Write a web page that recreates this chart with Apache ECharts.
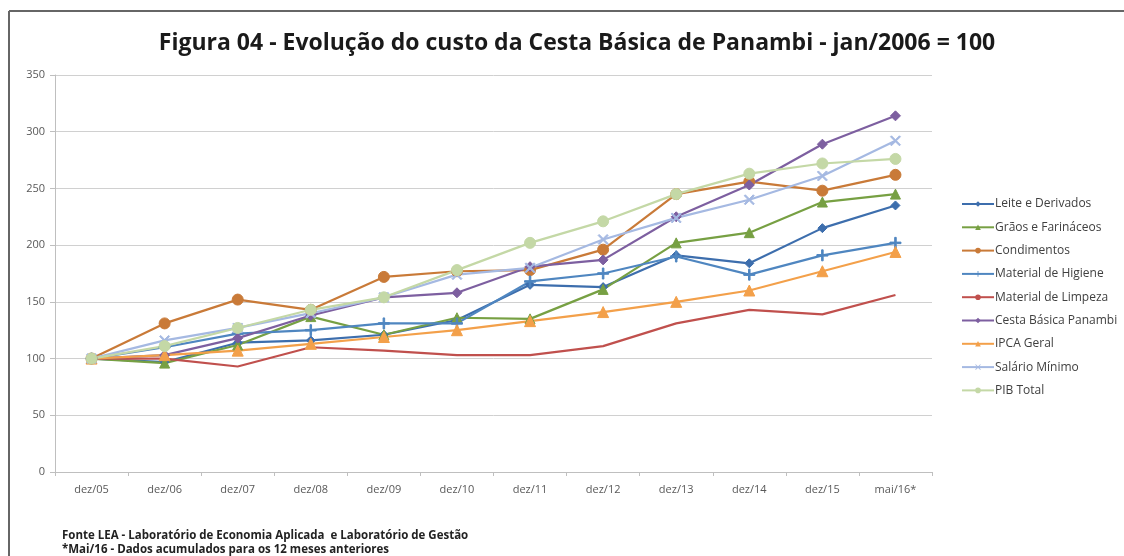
<!DOCTYPE html>
<html>
<head>
<meta charset="utf-8">
<style>
  html, body { margin: 0; padding: 0; background: #fff; }
  #chart { width: 1124px; height: 556px; }
</style>
<script src="https://cdn.jsdelivr.net/npm/echarts@6/dist/echarts.min.js"></script>
</head>
<body>
<div id="chart"></div>
<script>
  var categories = ['dez/05', 'dez/06', 'dez/07', 'dez/08', 'dez/09', 'dez/10', 'dez/11', 'dez/12', 'dez/13', 'dez/14', 'dez/15', 'mai/16*'];

  var leite = [100, 97, 114, 116, 121, 134, 165, 163, 191, 184, 215, 235];
  var graos = [100, 96, 112, 137, 121, 136, 135, 161, 202, 211, 238, 245];
  var condimentos = [100, 131, 152, 143, 172, 177, 178, 196, 245, 256, 248, 262];
  var higiene = [100, 110, 122, 125, 131, 131, 168, 175, 190, 174, 191, 202];
  var limpeza = [100, 100, 93, 110, 107, 103, 103, 111, 131, 143, 139, 156];
  var cesta = [100, 103, 118, 138, 154, 158, 181, 187, 225, 253, 289, 314];
  var ipca = [100, 103, 107, 113, 119, 125, 133, 141, 150, 160, 177, 194];
  var salario = [100, 116, 127, 140, 154, 174, 180, 205, 224, 240, 261, 292];
  var pib = [100, 111, 127, 143, 154, 178, 202, 221, 245, 263, 272, 276];

  var plusPath = 'path://M4.3,0 L5.7,0 L5.7,4.3 L10,4.3 L10,5.7 L5.7,5.7 L5.7,10 L4.3,10 L4.3,5.7 L0,5.7 L0,4.3 L4.3,4.3 Z';
  var crossPath = 'path://M1,0 L5,4 L9,0 L10,1 L6,5 L10,9 L9,10 L5,6 L1,10 L0,9 L4,5 L0,1 Z';

  var font = 'Open Sans';

  function serie(name, data, color, symbol, size) {
    return {
      name: name,
      type: 'line',
      data: data,
      symbol: symbol,
      symbolSize: size,
      showSymbol: symbol !== 'none',
      lineStyle: { color: color, width: 2.2 },
      itemStyle: { color: color, borderColor: color },
      emphasis: { disabled: true }
    };
  }

  var chart = echarts.init(document.getElementById('chart'));
  chart.setOption({
    backgroundColor: '#fff',
    animation: false,
    title: {
      text: 'Figura 04 - Evolução do custo da Cesta Básica de Panambi - jan/2006 = 100',
      left: 572,
      textAlign: 'center',
      top: 27,
      textStyle: { fontFamily: font, fontWeight: 'bold', fontSize: 23, color: '#1a1a1a' }
    },
    graphic: [
      { type: 'line', shape: { x1: 9, y1: 11, x2: 1124, y2: 11 }, style: { stroke: '#666', lineWidth: 2 } },
      { type: 'line', shape: { x1: 9, y1: 11, x2: 9, y2: 556 }, style: { stroke: '#666', lineWidth: 2 } },
      {
        type: 'text', left: 62, top: 530,
        style: { text: 'Fonte LEA - Laboratório de Economia Aplicada  e Laboratório de Gestão', font: 'bold 11.5px "Open Sans"', fill: '#222' }
      },
      {
        type: 'text', left: 62, top: 544,
        style: { text: '*Mai/16 - Dados acumulados para os 12 meses anteriores', font: 'bold 11.5px "Open Sans"', fill: '#222' }
      }
    ],
    legend: {
      orient: 'vertical',
      left: 956,
      top: 193,
      itemGap: 11.3,
      itemWidth: 32,
      itemHeight: 7,
      textStyle: { fontFamily: font, fontSize: 12, color: '#404040', padding: [0, 0, 0, -4] },
      data: ['Leite e Derivados', 'Grãos e Farináceos', 'Condimentos', 'Material de Higiene',
        'Material de Limpeza', 'Cesta Básica Panambi', 'IPCA Geral', 'Salário Mínimo', 'PIB Total']
    },
    grid: { left: 55, right: 192, top: 75, bottom: 84 },
    xAxis: {
      type: 'category',
      data: categories,
      boundaryGap: true,
      axisLine: { lineStyle: { color: '#bfbfbf' } },
      axisTick: { show: true, length: 4, lineStyle: { color: '#bfbfbf' } },
      axisLabel: { fontFamily: font, fontSize: 11, color: '#595959', margin: 12 }
    },
    yAxis: {
      type: 'value',
      min: 0,
      max: 350,
      interval: 50,
      axisLine: { show: true, lineStyle: { color: '#bfbfbf' } },
      axisTick: { show: true, length: 5, lineStyle: { color: '#bfbfbf' } },
      axisLabel: { fontFamily: font, fontSize: 11, color: '#595959', margin: 10 },
      splitLine: { lineStyle: { color: '#d0d0d0' } }
    },
    series: [
      serie('Leite e Derivados', leite, '#3d6ead', 'diamond', 9),
      serie('Grãos e Farináceos', graos, '#77a043', 'triangle', 10),
      serie('Condimentos', condimentos, '#c97a38', 'circle', 11),
      serie('Material de Higiene', higiene, '#4f86c0', plusPath, 11),
      serie('Material de Limpeza', limpeza, '#c0504d', 'none', 0),
      serie('Cesta Básica Panambi', cesta, '#7d5fa0', 'diamond', 10),
      serie('IPCA Geral', ipca, '#f3a04a', 'triangle', 11),
      serie('Salário Mínimo', salario, '#a5b9e2', crossPath, 10),
      serie('PIB Total', pib, '#c4d8a6', 'circle', 11)
    ]
  });
</script>
</body>
</html>
